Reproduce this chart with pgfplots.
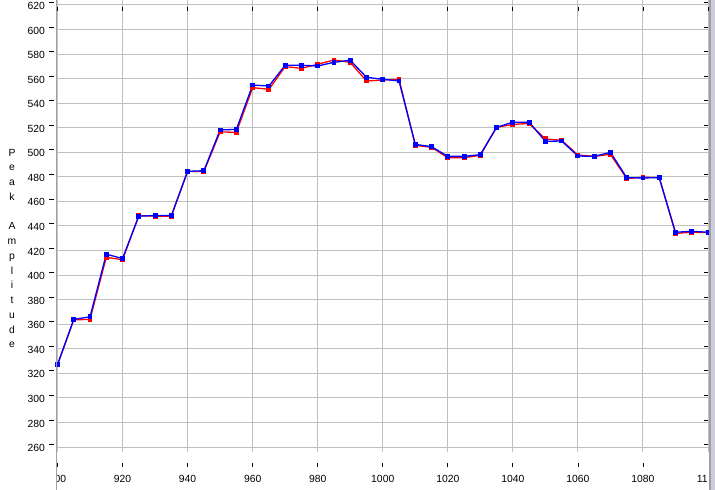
\documentclass[border=0pt]{standalone}
\usepackage{fontspec}
\setmainfont{Liberation Sans}
\usepackage{pgfplots}
\usepackage{pgfplotstable}
\pgfplotsset{compat=1.18}
\definecolor{gridgray}{RGB}{192,192,192}
\definecolor{axisgray}{RGB}{160,160,176}
\definecolor{bordergray}{RGB}{160,160,160}
\definecolor{borderlav}{RGB}{204,204,220}
\pgfplotstableread{
x blue red
900 327 327
905 364 363.5
910 366 364
915 417 414.5
920 413.5 412.5
925 448 448.5
930 448.5 448
935 448.5 448
940 484.5 484.5
945 485 484.3
950 518.2 516.6
955 518.7 516.3
960 554.8 552.7
965 554 551.3
970 570.9 569.8
975 570.9 568.4
980 570.3 571.7
985 573.3 575.2
990 575 573.3
995 561.1 558.1
1000 559.5 558.9
1005 558.1 559.5
1010 506.5 505.7
1015 504.6 504.1
1020 496.7 495.6
1025 496.7 495.6
1030 498.1 497.6
1035 520.4 520.4
1040 524.5 522.7
1045 524.5 523.5
1050 509 510.9
1055 509.2 509.8
1060 497 497.8
1065 496.7 496.7
1070 500 498.4
1075 479.4 478.6
1080 479.1 479.7
1085 479.4 479.4
1090 434.9 434
1095 435.7 434.9
1100 434.9 434.6
}\datatable
\begin{document}
\begin{tikzpicture}[x=1bp,y=1bp]
\useasboundingbox (0,0) rectangle (715,490);
\begin{axis}[
  at={(57.5bp,38bp)}, anchor=south west,
  scale only axis, width=650.5bp, height=452bp,
  xmin=900, xmax=1100, ymin=255.93, ymax=624.07,
  axis line style={draw=none},
  xtick={900,920,...,1100}, ytick={260,280,...,620},
  scaled ticks=false,
  grid=major, major grid style={gridgray, line width=1bp},
  tick align=outside, major tick length=4bp,
  tick style={black, line width=0.8bp},
  xtick style={yshift=-11bp}, ytick style={xshift=-4bp, yshift=2.5bp},
  ticklabel style={font=\fontsize{10.4}{12}\selectfont, inner sep=0pt},
  /pgf/number format/assume math mode=true,
  /pgf/number format/1000 sep={},
  xticklabel style={anchor=center, yshift=-23bp},
  yticklabel style={anchor=east, xshift=-8.5bp, yshift=-1bp},
]
\addplot[red, line width=1.3bp, mark=square*, mark size=1.8bp, mark options={solid}] table[x=x, y=red] {\datatable};
\addplot[blue, line width=1.3bp, mark=square*, mark size=1.8bp, mark options={solid}] table[x=x, y=blue] {\datatable};
\end{axis}
\fill[white] (0,0) rectangle (57,38);
\fill[white] (707,0) rectangle (715,38);
\draw[axisgray, line width=1.5bp] (56.5,0) -- (56.5,490);
\fill[bordergray] (708.5,0) rectangle (711,490);
\fill[borderlav] (711,0) rectangle (715,490);
\node[align=center, font=\fontsize{10.4}{14.8}\selectfont, inner sep=0pt] at (12,241.5) {P\\e\\a\\k\\\mbox{}\\A\\m\\p\\l\\i\\t\\u\\d\\e};
\end{tikzpicture}
\end{document}
